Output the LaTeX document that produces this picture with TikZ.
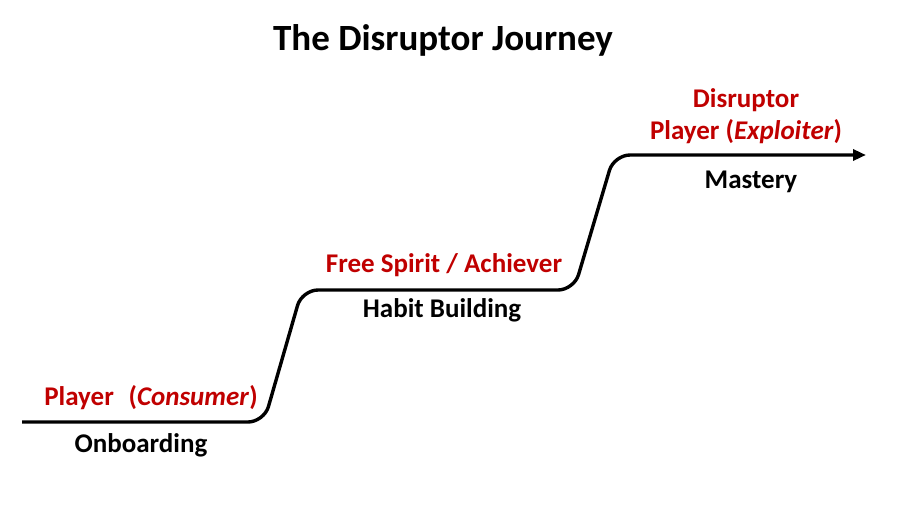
\documentclass[tikz,border=0pt]{standalone}
\usepackage{fontspec}
\setmainfont{Carlito}
\usetikzlibrary{arrows.meta,positioning}
\definecolor{myred}{RGB}{192,0,0}
\tikzset{
  stagelbl/.style={font=\fontsize{27}{32}\selectfont\bfseries,text=myred,align=center,inner sep=0pt},
  phaselbl/.style={font=\fontsize{27}{32}\selectfont\bfseries,text=black,inner sep=0pt},
}
\begin{document}
\begin{tikzpicture}[x=1pt,y=-1pt,
    journey/.style={line width=3.4pt,rounded corners=16pt},
  ]
    \useasboundingbox (0,0) rectangle (900,504);

    %────────── TITLE ──────────────
    \node[font=\fontsize{37}{42}\selectfont\bfseries,inner sep=0pt] (title) at (443,40) {The Disruptor Journey};

    %────────── STEPS ──────────────
    \coordinate (s0) at (22,422);
    \coordinate (c1) at (264,422);
    \coordinate (c2) at (302,290);
    \coordinate (c3) at (574,290);
    \coordinate (c4) at (614,155);
    \coordinate (s3) at (866,155);
    \draw[journey,-{Triangle[length=13pt,width=11pt]}] (s0) -- (c1) -- (c2) -- (c3) -- (c4) -- (s3);

    %────────── ONBOARDING ─────────
    \node[stagelbl] (consumer) at (151,398) {Player\hspace{0.55em}(\textit{Consumer})};
    \node[phaselbl] (onboard) at (141,445) {Onboarding};

    %────────── HABIT ──────────────
    \node[stagelbl] (achiever) at (444,265) {Free Spirit / Achiever};
    \node[phaselbl] (habit) at (442,310) {Habit Building};

    %────────── MASTERY ────────────
    \node[stagelbl] (exploiter) at (746,116) {Disruptor\\Player (\textit{Exploiter})};
    \node[phaselbl] (mastery) at (751,182) {Mastery};
  \end{tikzpicture}
\end{document}
